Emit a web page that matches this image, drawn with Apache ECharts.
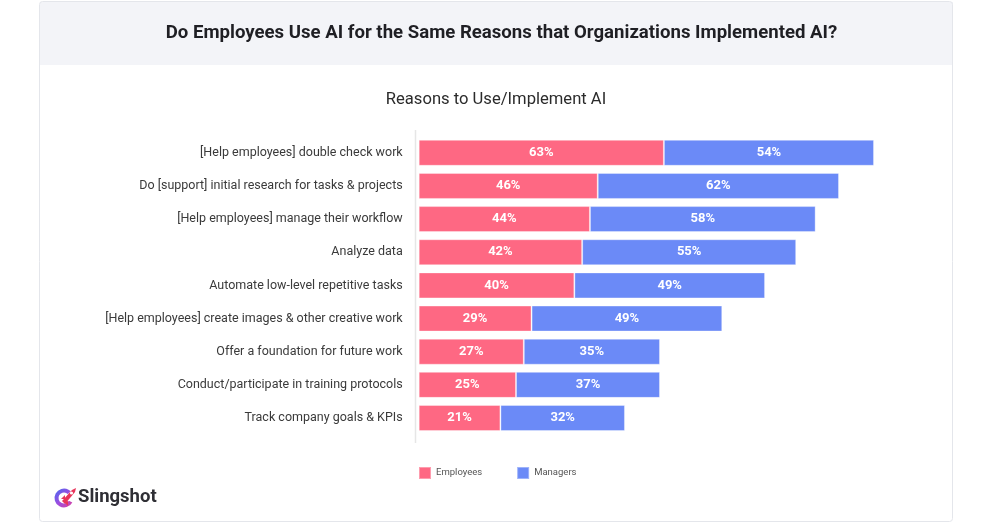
<!DOCTYPE html>
<html>
<head>
<meta charset="utf-8">
<script src="https://cdn.jsdelivr.net/npm/echarts@6/dist/echarts.min.js"></script>
<style>
html,body{margin:0;padding:0;background:#fff;}
#chart{width:1000px;height:530px;}
</style>
</head>
<body>
<div id="chart"></div>
<script>
var categories = [
  "[Help employees] double check work",
  "Do [support] initial research for tasks & projects",
  "[Help employees] manage their workflow",
  "Analyze data",
  "Automate low-level repetitive tasks",
  "[Help employees] create images & other creative work",
  "Offer a foundation for future work",
  "Conduct/participate in training protocols",
  "Track company goals & KPIs"
];
var employees = [63, 46, 44, 42, 40, 29, 27, 25, 21];
var managers = [54, 62, 58, 55, 49, 49, 35, 37, 32];
var seriesNames = ["Employees", "Managers"];

var FONT = "Roboto, 'Noto Sans', sans-serif";
var chart = echarts.init(document.getElementById('chart'), null, {renderer: 'canvas'});

var option = {
  backgroundColor: '#ffffff',
  animation: false,
  textStyle: {fontFamily: FONT},
  graphic: [
    {type: 'rect', z: -10, silent: true, shape: {x: 40, y: 2, width: 913, height: 63}, style: {fill: '#f3f4f8'}},
    {type: 'rect', z: -9, silent: true, shape: {x: 39.5, y: 1.5, width: 913, height: 520, r: 3}, style: {fill: 'none', stroke: '#e4e6eb', lineWidth: 1}},
    {type: 'text', x: 501.5, y: 33.5, silent: true, style: {
      text: 'Do Employees Use AI for the Same Reasons that Organizations Implemented AI?',
      fontSize: 18.6, fontWeight: 'bold', fill: '#1f1f24', fontFamily: FONT,
      textAlign: 'center', textVerticalAlign: 'middle'}},
    {type: 'text', x: 496, y: 100, silent: true, style: {
      text: 'Reasons to Use/Implement AI',
      fontSize: 16.6, fill: '#2b2b2b', fontFamily: FONT,
      textAlign: 'center', textVerticalAlign: 'middle'}},
    {type: 'line', silent: true, shape: {x1: 415.5, y1: 130, x2: 415.5, y2: 443}, style: {stroke: '#e6e6e6', lineWidth: 1.5}},
    {type: 'group', x: 55, y: 487, silent: true, children: [
      {type: 'arc', shape: {cx: 9, cy: 11, r: 7.5, startAngle: 0.5, endAngle: 5.5}, style: {stroke: new echarts.graphic.LinearGradient(0, 0, 1, 1, [{offset: 0, color: '#3f6df2'}, {offset: 0.5, color: '#9b4ee0'}, {offset: 1, color: '#e0409a'}]), lineWidth: 4, fill: 'none'}},
      {type: 'polygon', shape: {points: [[7, 14], [17, 3], [21, 1], [20, 5], [10, 17]]}, style: {fill: '#e8345a'}},
      {type: 'polygon', shape: {points: [[6, 12], [10, 8], [10, 12]]}, style: {fill: '#e8345a'}},
      {type: 'polygon', shape: {points: [[9, 15], [13, 14], [13, 19]]}, style: {fill: '#e8345a'}},
      {type: 'circle', shape: {cx: 16.5, cy: 6, r: 1.6}, style: {fill: '#ffffff'}}
    ]},
    {type: 'text', x: 78, y: 497, silent: true, style: {text: 'Slingshot', fontSize: 18.5, fontWeight: 'bold', fill: '#2f2f35', fontFamily: FONT, textVerticalAlign: 'middle'}}
  ],
  legend: {
    data: seriesNames,
    left: 418, top: 466, padding: 0,
    icon: 'rect', itemWidth: 12, itemHeight: 12, itemGap: 34,
    textStyle: {fontSize: 9.5, color: '#555', fontFamily: FONT}
  },
  grid: {left: 418.7, top: 136.2, width: 467, height: 298.4, containLabel: false},
  xAxis: {
    type: 'value', min: 0, max: 120,
    show: false, splitLine: {show: false}
  },
  yAxis: {
    type: 'category', data: categories, inverse: true, offset: 3.5,
    axisLine: {show: false},
    axisTick: {show: false},
    axisLabel: {fontSize: 12.5, color: '#3a3a3a', margin: 12.5, fontFamily: FONT}
  },
  series: [
    {
      name: seriesNames[0], type: 'bar', stack: 'total', data: employees, barWidth: 26,
      itemStyle: {color: '#fe6883', borderColor: 'rgba(255,255,255,0.35)', borderWidth: 1},
      label: {show: true, position: 'inside', formatter: '{c}%', color: '#fff', fontWeight: 'bold', fontSize: 13, fontFamily: FONT}
    },
    {
      name: seriesNames[1], type: 'bar', stack: 'total', data: managers, barWidth: 26,
      itemStyle: {color: '#6b8af7', borderColor: 'rgba(255,255,255,0.35)', borderWidth: 1},
      label: {show: true, position: 'inside', formatter: '{c}%', color: '#fff', fontWeight: 'bold', fontSize: 13, fontFamily: FONT}
    }
  ]
};
chart.setOption(option);
</script>
</body>
</html>
